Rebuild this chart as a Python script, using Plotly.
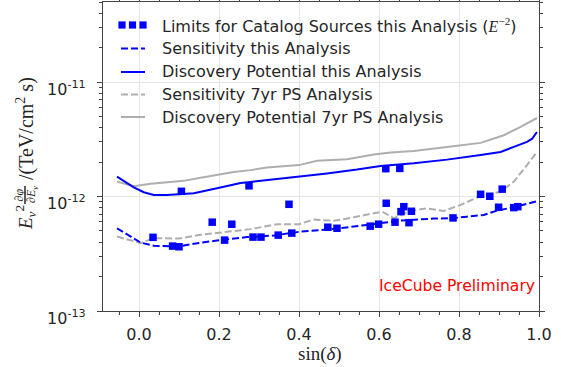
import numpy as np
import plotly.graph_objects as go

# Upper limits for catalog sources (E^-2 spectrum)
src_sindec = [0.035, 0.084, 0.100, 0.106, 0.183, 0.214, 0.232, 0.275, 0.285, 0.305,
              0.348, 0.375, 0.382, 0.472, 0.495, 0.578, 0.599, 0.617, 0.618, 0.640,
              0.652, 0.655, 0.662, 0.675, 0.681, 0.785, 0.854, 0.877, 0.899, 0.908,
              0.937, 0.947]
src_limit = [4.4e-13, 3.69e-13, 3.64e-13, 1.11e-12, 5.97e-13, 4.16e-13, 5.73e-13, 1.24e-12, 4.42e-13, 4.42e-13,
             4.6e-13, 8.55e-13, 4.79e-13, 5.39e-13, 5.28e-13, 5.51e-13, 5.73e-13, 1.75e-12, 8.73e-13, 5.97e-13,
             1.76e-12, 7.38e-13, 8.15e-13, 5.91e-13, 7.43e-13, 6.5e-13, 1.045e-12, 1.005e-12, 8.06e-13, 1.16e-12,
             8.0e-13, 8.15e-13]

# Sensitivity, this analysis
sens_x = [-0.055, 0.004, 0.037, 0.095, 0.137, 0.195, 0.27, 0.337, 0.404, 0.487,
          0.570, 0.654, 0.737, 0.783, 0.82, 0.862, 0.895, 0.937, 0.995]
sens_y = [5.28e-13, 3.96e-13, 3.71e-13, 3.65e-13, 3.86e-13, 4.13e-13, 4.42e-13, 4.56e-13, 4.94e-13, 5.21e-13,
          5.65e-13, 6.16e-13, 6.42e-13, 6.46e-13, 6.67e-13, 6.9e-13, 7.53e-13, 8.06e-13, 9.1e-13]

# Discovery potential, this analysis
dp_x = [-0.055, -0.013, 0.012, 0.037, 0.07, 0.095, 0.137, 0.195, 0.254, 0.279,
        0.337, 0.40, 0.47, 0.545, 0.604, 0.687, 0.77, 0.854, 0.904, 0.937,
        0.97, 0.983, 0.995]
dp_y = [1.49e-12, 1.20e-12, 1.09e-12, 1.03e-12, 1.03e-12, 1.04e-12, 1.07e-12, 1.18e-12, 1.31e-12, 1.34e-12,
        1.41e-12, 1.49e-12, 1.59e-12, 1.72e-12, 1.85e-12, 1.95e-12, 2.1e-12, 2.3e-12, 2.45e-12, 2.71e-12,
        3.0e-12, 3.2e-12, 3.66e-12]

# Sensitivity, 7yr PS analysis
sens7_x = [-0.055, 0.004, 0.037, 0.10, 0.154, 0.237, 0.279, 0.345, 0.40, 0.437,
           0.487, 0.537, 0.57, 0.608, 0.637, 0.679, 0.72, 0.762, 0.804, 0.854,
           0.904, 0.937, 0.97, 0.995]
sens7_y = [4.47e-13, 3.92e-13, 4.33e-13, 4.3e-13, 4.63e-13, 5.04e-13, 5.19e-13, 5.73e-13, 5.73e-13, 6.3e-13,
           6.13e-13, 6.59e-13, 6.9e-13, 7.38e-13, 6.46e-13, 7.48e-13, 7.88e-13, 7.48e-13, 8.44e-13, 1.01e-12,
           1.1e-12, 1.35e-12, 1.88e-12, 2.45e-12]

# Discovery potential, 7yr PS analysis
dp7_x = [-0.055, -0.013, 0.029, 0.07, 0.112, 0.154, 0.195, 0.237, 0.279, 0.32,
         0.40, 0.445, 0.52, 0.587, 0.629, 0.687, 0.77, 0.854, 0.912, 0.954, 0.995]
dp7_y = [1.35e-12, 1.23e-12, 1.29e-12, 1.32e-12, 1.37e-12, 1.46e-12, 1.54e-12, 1.64e-12, 1.70e-12, 1.79e-12,
         1.88e-12, 2.05e-12, 2.12e-12, 2.33e-12, 2.42e-12, 2.5e-12, 2.71e-12, 2.94e-12, 3.43e-12, 4.05e-12, 4.85e-12]

legend_labels = [
    'Limits for Catalog Sources this Analysis (<span style="font-family:\'Liberation Serif\'"><i>E</i><sup>\u22122</sup></span>)',
    "Sensitivity this Analysis",
    "Discovery Potential this Analysis",
    "Sensitivity 7yr PS Analysis",
    "Discovery Potential 7yr PS Analysis",
]

x_ticks = [0.0, 0.2, 0.4, 0.6, 0.8, 1.0]
y_ticks = [1e-13, 1e-12, 1e-11]
y_ticktext = ["10<sup>-13</sup>", "10<sup>-12</sup>", "10<sup>-11</sup>"]

BLUE = "#0000ff"
GREY = "#aeaeae"
DASH = "7px,3px"
TEXT = "#262626"

W, H = 561, 367
ML, MR, MT, MB = 103, 22, 2, 56
PW, PH = W - ML - MR, H - MT - MB


def px(xp):
    return (xp - ML) / PW


def py(yp):
    return (H - MB - yp) / PH


fig = go.Figure()
fig.add_trace(go.Scatter(x=sens7_x, y=sens7_y, mode="lines",
                         line=dict(color=GREY, width=2, dash=DASH)))
fig.add_trace(go.Scatter(x=dp7_x, y=dp7_y, mode="lines",
                         line=dict(color=GREY, width=2)))
fig.add_trace(go.Scatter(x=sens_x, y=sens_y, mode="lines",
                         line=dict(color=BLUE, width=2, dash=DASH)))
fig.add_trace(go.Scatter(x=dp_x, y=dp_y, mode="lines",
                         line=dict(color=BLUE, width=2)))
fig.add_trace(go.Scatter(x=src_sindec, y=src_limit, mode="markers",
                         marker=dict(symbol="square", size=7.5, color=BLUE, line=dict(width=0))))

# hand-built legend (no frame, transparent)
shapes = []
row_y = [25, 48.5, 72, 94.5, 117]
for cx in (122, 132.5, 143):
    shapes.append(dict(type="rect", xref="paper", yref="paper",
                       x0=px(cx - 3.6), x1=px(cx + 3.6), y0=py(row_y[0] + 3.6), y1=py(row_y[0] - 3.6),
                       fillcolor=BLUE, line=dict(width=0)))
samples = [(BLUE, DASH), (BLUE, "solid"), (GREY, DASH), (GREY, "solid")]
for (col, dash), yy in zip(samples, row_y[1:]):
    shapes.append(dict(type="line", xref="paper", yref="paper",
                       x0=px(121), x1=px(145), y0=py(yy), y1=py(yy),
                       line=dict(color=col, width=2, dash=dash)))

annotations = []
for lab, yy in zip(legend_labels, row_y):
    annotations.append(dict(text=lab, xref="paper", yref="paper", x=px(160), y=py(yy),
                            xanchor="left", yanchor="middle", showarrow=False,
                            font=dict(family="DejaVu Sans", size=16, color=TEXT)))

annotations.append(dict(text="IceCube Preliminary", xref="paper", yref="paper",
                        x=px(456.5), y=py(286), xanchor="center", yanchor="middle", showarrow=False,
                        font=dict(family="DejaVu Sans", size=15.6, color="#ff0000")))

# axis labels
serif = "Liberation Serif"
annotations.append(dict(text="sin(<i>\u03b4</i>)", xref="paper", yref="paper",
                        x=px(320), y=py(354), xanchor="center", yanchor="middle", showarrow=False,
                        font=dict(family=serif, size=19, color=TEXT)))
annotations.append(dict(text="<i>E</i><sub><i>\u03bd</i></sub><sup>2</sup>", xref="paper", yref="paper",
                        x=px(25), y=py(218), xanchor="center", yanchor="middle", showarrow=False,
                        textangle=-90, font=dict(family=serif, size=19, color=TEXT)))
annotations.append(dict(text="\u2202<i>\u03c6</i>", xref="paper", yref="paper",
                        x=px(18.5), y=py(195), xanchor="center", yanchor="middle", showarrow=False,
                        textangle=-90, font=dict(family=serif, size=12, color=TEXT)))
annotations.append(dict(text="\u2202<i>E</i><sub><i>\u03bd</i></sub>", xref="paper", yref="paper",
                        x=px(32), y=py(195), xanchor="center", yanchor="middle", showarrow=False,
                        textangle=-90, font=dict(family=serif, size=12, color=TEXT)))
shapes.append(dict(type="line", xref="paper", yref="paper",
                   x0=px(25), x1=px(25), y0=py(186), y1=py(204),
                   line=dict(color=TEXT, width=1.5)))
annotations.append(dict(text="/(TeV/cm<sup>2</sup> s)", xref="paper", yref="paper",
                        x=px(25), y=py(129), xanchor="center", yanchor="middle", showarrow=False,
                        textangle=-90, font=dict(family=serif, size=20, color=TEXT)))

axis_common = dict(showline=True, linecolor="#444444", linewidth=1.25, mirror="allticks",
                   ticks="outside", ticklen=5, tickwidth=1.1, tickcolor="#444444",
                   showgrid=True, gridcolor="#e6e6e6", gridwidth=1, zeroline=False,
                   automargin=False,
                   tickfont=dict(family="DejaVu Sans", size=16, color=TEXT))

y_minor = [k * 10.0 ** e for e in (-13, -12, -11) for k in range(2, 10) if k * 10.0 ** e <= 5e-11]

fig.update_layout(
    width=W, height=H, margin=dict(l=ML, r=MR, t=MT, b=MB),
    paper_bgcolor="white", plot_bgcolor="white", showlegend=False,
    shapes=shapes, annotations=annotations,
    xaxis=dict(range=[-0.09, 1.0], tickmode="array", tickvals=x_ticks,
               ticktext=[f"{v:.1f}" for v in x_ticks], ticklabelstandoff=4,
               minor=dict(tickmode="linear", tick0=0, dtick=0.05, ticks="outside", ticklen=3,
                          tickcolor="#444444", showgrid=False),
               **axis_common),
    yaxis=dict(type="log", range=[-13, np.log10(5e-11)], tickmode="array", tickvals=y_ticks,
               ticktext=y_ticktext, ticklabelstandoff=8, ticklabelshift=7,
               minor=dict(tickmode="array", tickvals=y_minor, ticks="outside", ticklen=3,
                          tickcolor="#444444", showgrid=False),
               **axis_common),
)

fig.write_html("out.html")
